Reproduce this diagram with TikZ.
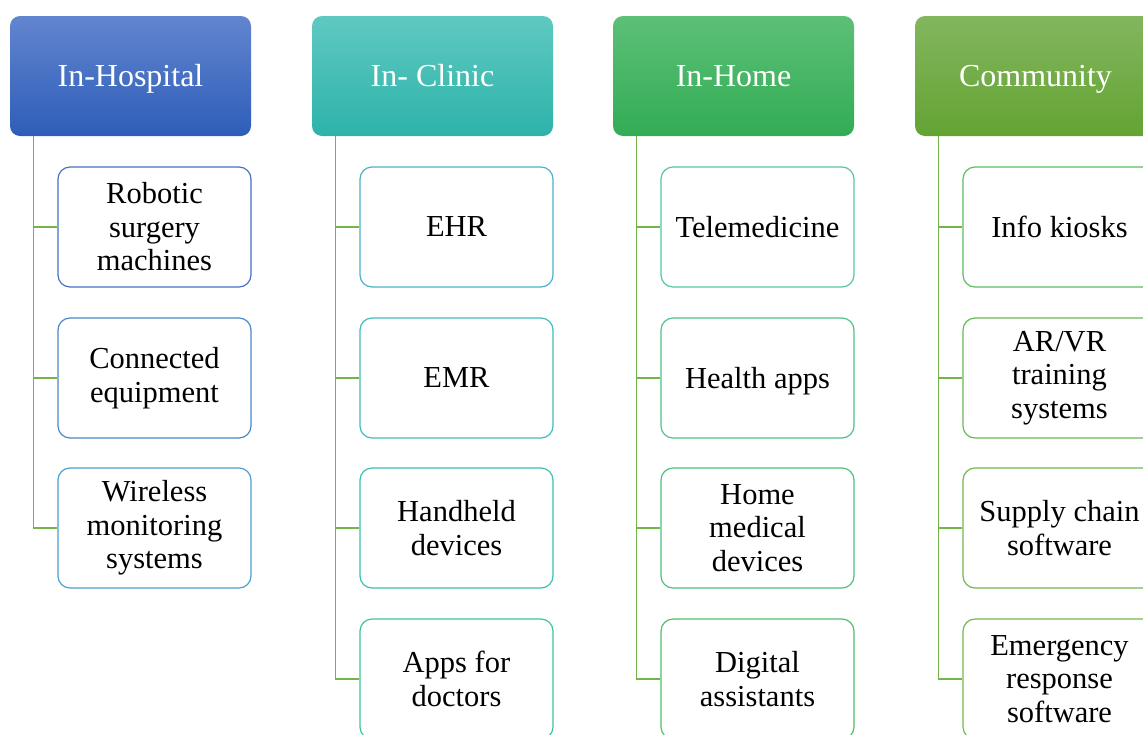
\documentclass[tikz,border=0pt]{standalone}
\usepackage{fontspec}
\setmainfont{Liberation Serif}

\definecolor{hospTop}{HTML}{6285CF}
\definecolor{hospBot}{HTML}{2E5DB8}
\definecolor{clinTop}{HTML}{5FC9C1}
\definecolor{clinBot}{HTML}{2DB3AA}
\definecolor{homeTop}{HTML}{5CC077}
\definecolor{homeBot}{HTML}{33AC55}
\definecolor{commTop}{HTML}{83B65E}
\definecolor{commBot}{HTML}{63A333}
\definecolor{linkGreen}{HTML}{74B54A}

\definecolor{hospA}{HTML}{4472C4}
\definecolor{hospB}{HTML}{4A87C9}
\definecolor{hospC}{HTML}{4E9ECF}
\definecolor{clinA}{HTML}{4AB2C8}
\definecolor{clinB}{HTML}{40BCB9}
\definecolor{clinC}{HTML}{3CC0AE}
\definecolor{clinD}{HTML}{3CC4A0}
\definecolor{homeA}{HTML}{55C79B}
\definecolor{homeB}{HTML}{4FC38A}
\definecolor{homeC}{HTML}{4DC17B}
\definecolor{homeD}{HTML}{4FBF6E}
\definecolor{commA}{HTML}{5BBE5C}
\definecolor{commB}{HTML}{66BA55}
\definecolor{commC}{HTML}{6EB94F}
\definecolor{commD}{HTML}{74B84C}

\tikzset{
    head/.style={rounded corners=10pt, minimum width=241pt, minimum height=120pt,
        text=white, text height=21pt, text depth=0pt,
        font=\fontsize{32}{34}\selectfont},
    item/.style={draw=#1, line width=1.2pt, rounded corners=12pt, fill=white,
        minimum width=193pt, minimum height=120pt, inner sep=2pt, align=center,
        font=\fontsize{30.5}{33.5}\selectfont},
    link/.style={draw=linkGreen, line width=1.3pt}
}

\begin{document}
\begin{tikzpicture}[x=1pt, y=-1pt]
                \useasboundingbox (0,0) rectangle (1143,734);
            \begin{scope}[overlay]
                \clip (0,0) rectangle (1143,734);

                \node[head, top color=hospTop, bottom color=hospBot] (hosp) at (130.5,76) {In-Hospital};
                \node[head, top color=clinTop, bottom color=clinBot] (clin) at (432.5,76) {In- Clinic};
                \node[head, top color=homeTop, bottom color=homeBot] (home) at (733.5,76) {In-Home};
                \node[head, top color=commTop, bottom color=commBot] (comm) at (1035.5,76) {Community};

                \node[item=hospA] (hosp1) at (154.5,227) {Robotic\\surgery\\machines};
                \node[item=hospB] (hosp2) at (154.5,378) {Connected\\equipment};
                \node[item=hospC] (hosp3) at (154.5,528) {Wireless\\monitoring\\systems};

                \node[item=clinA] (clin1) at (456.5,227) {EHR};
                \node[item=clinB] (clin2) at (456.5,378) {EMR};
                \node[item=clinC] (clin3) at (456.5,528) {Handheld\\devices};
                \node[item=clinD] (clin4) at (456.5,679) {Apps for\\doctors};

                \node[item=homeA] (home1) at (757.5,227) {Telemedicine};
                \node[item=homeB, text depth=0pt] (home2) at (757.5,378) {Health apps};
                \node[item=homeC] (home3) at (757.5,528) {Home\\medical\\devices};
                \node[item=homeD] (home4) at (757.5,679) {Digital\\assistants};

                \node[item=commA] (comm1) at (1059.5,227) {Info kiosks};
                \node[item=commB] (comm2) at (1059.5,378) {AR/VR\\training\\systems};
                \node[item=commC] (comm3) at (1059.5,528) {Supply chain\\software};
                \node[item=commD] (comm4) at (1059.5,679) {Emergency\\response\\software};

                \draw[link] ([xshift=24pt]hosp.south west) |- (hosp1.west);
                \draw[link] ([xshift=24pt]hosp.south west) |- (hosp2.west);
                \draw[link] ([xshift=24pt]hosp.south west) |- (hosp3.west);

                \draw[link] ([xshift=24pt]clin.south west) |- (clin1.west);
                \draw[link] ([xshift=24pt]clin.south west) |- (clin2.west);
                \draw[link] ([xshift=24pt]clin.south west) |- (clin3.west);
                \draw[link] ([xshift=24pt]clin.south west) |- (clin4.west);

                \draw[link] ([xshift=24pt]home.south west) |- (home1.west);
                \draw[link] ([xshift=24pt]home.south west) |- (home2.west);
                \draw[link] ([xshift=24pt]home.south west) |- (home3.west);
                \draw[link] ([xshift=24pt]home.south west) |- (home4.west);

                \draw[link] ([xshift=24pt]comm.south west) |- (comm1.west);
                \draw[link] ([xshift=24pt]comm.south west) |- (comm2.west);
                \draw[link] ([xshift=24pt]comm.south west) |- (comm3.west);
                \draw[link] ([xshift=24pt]comm.south west) |- (comm4.west);
            \end{scope}
            \end{tikzpicture}
\end{document}
